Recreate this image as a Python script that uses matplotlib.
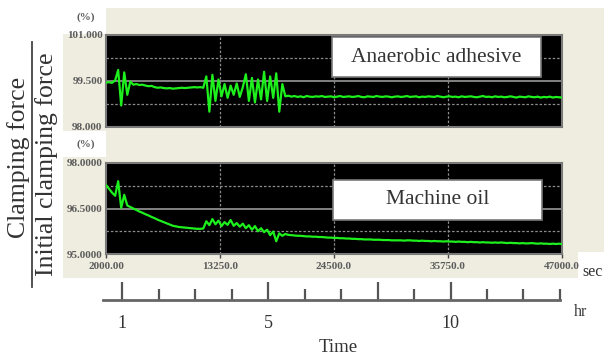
import numpy as np
import matplotlib
matplotlib.use("Agg")
import matplotlib.pyplot as plt
from matplotlib.patches import Rectangle
from matplotlib.lines import Line2D
from matplotlib.ticker import FixedLocator

# ---- logged clamping force, % of initial value, one sample every 300 s ----
t_start = 2000
t_end = 47000
sample_step = 300

adhesive_pct = [
    99.45, 99.46, 99.44, 99.52, 99.86, 98.70, 99.78, 99.05, 99.48, 99.38,
    99.40, 99.37, 99.38, 99.35, 99.33, 99.34, 99.30, 99.28, 99.29, 99.27,
    99.26, 99.27, 99.25, 99.26, 99.27, 99.28, 99.27, 99.28, 99.29, 99.30,
    99.29, 99.30, 99.28, 99.65, 98.50, 99.70, 98.85, 99.55, 99.00, 99.40,
    98.95, 99.35, 99.05, 99.42, 98.98, 99.30, 99.72, 98.85, 99.60, 98.80,
    99.55, 98.90, 99.80, 98.85, 99.65, 98.95, 99.75, 98.50, 99.40, 99.00,
    99.02, 98.99, 99.01, 98.98, 99.00, 98.97, 99.01, 98.99, 98.98, 99.00,
    98.99, 99.01, 98.98, 98.99, 99.00, 98.97, 98.99, 99.01, 98.98, 98.99,
    99.00, 98.98, 98.99, 99.01, 98.98, 98.97, 99.00, 98.99, 98.98, 99.01,
    98.99, 98.98, 99.00, 98.99, 98.97, 98.99, 99.00, 98.98, 98.99, 99.01,
    98.98, 98.99, 99.00, 98.97, 98.99, 98.98, 99.00, 98.99, 98.98, 99.01,
    98.99, 98.97, 98.99, 99.00, 98.98, 98.99, 98.97, 99.00, 98.98, 98.99,
    99.00, 98.98, 98.97, 98.99, 99.01, 98.98, 98.99, 98.97, 99.00, 98.98,
    98.99, 98.97, 98.98, 99.00, 98.98, 98.96, 98.99, 98.98, 98.97, 99.00,
    98.98, 98.97, 98.99, 98.96, 98.98, 98.97, 98.99, 98.96, 98.98, 98.97,
    98.96,
]

oil_pct = [
    97.27, 97.15, 97.02, 96.92, 97.40, 96.52, 96.95, 96.60, 96.55, 96.50,
    96.45, 96.40, 96.36, 96.31, 96.27, 96.22, 96.18, 96.13, 96.09, 96.05,
    96.01, 95.97, 95.93, 95.91, 95.89, 95.88, 95.87, 95.86, 95.85, 95.84,
    95.83, 95.83, 95.84, 96.08, 95.95, 96.15, 95.98, 96.10, 95.92, 96.05,
    95.96, 96.12, 95.93, 96.02, 95.90, 96.00, 95.85, 95.95, 95.80, 95.92,
    95.75, 95.85, 95.72, 95.80, 95.62, 95.74, 95.42, 95.68, 95.60, 95.66,
    95.63, 95.62, 95.61, 95.60, 95.60, 95.59, 95.58, 95.58, 95.57, 95.57,
    95.56, 95.56, 95.55, 95.54, 95.54, 95.53, 95.53, 95.52, 95.52, 95.51,
    95.51, 95.50, 95.50, 95.49, 95.49, 95.48, 95.48, 95.48, 95.47, 95.47,
    95.47, 95.46, 95.46, 95.46, 95.45, 95.45, 95.45, 95.45, 95.44, 95.45,
    95.45, 95.44, 95.44, 95.43, 95.44, 95.43, 95.43, 95.42, 95.43, 95.42,
    95.42, 95.41, 95.42, 95.41, 95.41, 95.40, 95.41, 95.40, 95.40, 95.39,
    95.40, 95.39, 95.39, 95.38, 95.39, 95.38, 95.38, 95.37, 95.38, 95.37,
    95.38, 95.37, 95.36, 95.37, 95.36, 95.36, 95.35, 95.36, 95.35, 95.35,
    95.36, 95.35, 95.34, 95.35, 95.34, 95.34, 95.33, 95.34, 95.33, 95.34,
    95.33,
]

sec_ticks = [2000, 13250, 24500, 35750, 47000]
sec_labels = ["2000.00", "13250.0", "24500.0", "35750.0", "47000.0"]

adhesive_yticks = [98.0, 99.5, 101.0]
adhesive_ylabels = ["98.000", "99.500", "101.000"]
oil_yticks = [95.0, 96.5, 98.0]
oil_ylabels = ["95.0000", "96.5000", "98.0000"]

hr_major = [1, 5, 8, 10]
hr_major_labels = ["1", "5", "", "10"]
hr_minor = [2, 3, 4, 6, 7, 9, 11, 12, 13]

panel_names = ["Anaerobic adhesive", "Machine oil"]

# ---- figure in pixel units ----
W, H = 611, 360
fig = plt.figure(figsize=(W / 100, H / 100), dpi=100)
fig.patch.set_facecolor("white")


def box(x0, y0, x1, y1):
    """figure-fraction rectangle [left, bottom, width, height] from pixel corners"""
    return [x0 / W, 1 - y1 / H, (x1 - x0) / W, (y1 - y0) / H]


def fig_rect(x0, y0, x1, y1, **kw):
    l, b, w, h = box(x0, y0, x1, y1)
    r = Rectangle((l, b), w, h, transform=fig.transFigure, **kw)
    fig.add_artist(r)
    return r


BEIGE = "#efede0"
serif = "Liberation Serif"
tick_font = dict(family=serif, weight="bold", size=8, color="#5c5c5c")

# recorder panel background with white cut-outs
fig_rect(63, 8, 604, 278, fc=BEIGE, ec="none", zorder=-10)
fig_rect(63, 8, 106, 34, fc="white", ec="none", zorder=-9)
fig_rect(63, 131, 106, 157, fc="white", ec="none", zorder=-9)
fig_rect(578, 252, 611, 280, fc="white", ec="none", zorder=-9)

t_sec = t_start + sample_step * np.arange(len(adhesive_pct))

panels = [
    (box(106, 35, 562, 127), adhesive_pct, (98.0, 101.0), adhesive_yticks, adhesive_ylabels),
    (box(106, 163, 562, 254), oil_pct, (95.0, 98.0), oil_yticks, oil_ylabels),
]

axes = []
for k, (pos, values, ylim, yt, yl) in enumerate(panels):
    ax = fig.add_axes(pos)
    ax.set_facecolor("black")
    ax.set_xlim(t_start, t_end)
    ax.set_ylim(*ylim)

    lo, hi = ylim
    span = hi - lo
    for q in (0.25, 0.75):
        ax.axhline(lo + q * span, color="#8c8c8c", lw=0.9, ls=(0, (2, 1.5)), zorder=1)
    ax.axhline(lo + 0.5 * span, color="#8c8c8c", lw=1.3, zorder=1)
    for s in sec_ticks[1:-1]:
        ax.axvline(s, color="#8c8c8c", lw=0.9, ls=(0, (2, 1.5)), zorder=1)

    ax.plot(t_sec, values, color="#1df01d", lw=1.6, zorder=3)

    ax.set_yticks(yt)
    ax.set_yticklabels(yl, fontdict=tick_font)
    ax.tick_params(axis="y", length=0, pad=2.5)

    ax.set_xticks(sec_ticks)
    if k == 1:
        ax.set_xticklabels(sec_labels, fontdict=tick_font)
        ax.tick_params(axis="x", length=3, width=1, color="#444444", pad=3)
    else:
        ax.tick_params(axis="x", length=0, labelbottom=False)

    for sp in ax.spines.values():
        sp.set_color("#7a7a7a")
        sp.set_linewidth(1.5)
    axes.append(ax)

# "(%)" unit marks above each value scale
for y in (17, 144):
    fig.text(86 / W, 1 - y / H, "(%)", ha="center", va="center", **tick_font)

# series name boxes
for (x0, y0, x1, y1), name in zip([(332, 37, 541, 77), (333, 180, 542, 220)], panel_names):
    fig_rect(x0, y0, x1, y1, fc="white", ec="#7a7a7a", lw=1.2, zorder=5)
    fig.text((x0 + x1) / 2 / W, 1 - (y0 + y1) / 2 / H, name, ha="center", va="center",
             family=serif, size=15.5, color="#333333", zorder=6)

fig.text(593 / W, 1 - 272 / H, "sec", ha="center", va="center",
         family=serif, size=11.5, color="#333333")

# hour scale under the recorder panel
ax_hr = fig.add_axes(box(106, 280, 562, 300))
ax_hr.set_xlim(t_start / 3600, t_end / 3600)
ax_hr.set_ylim(0, 1)
ax_hr.patch.set_visible(False)
for side in ("top", "right", "left"):
    ax_hr.spines[side].set_visible(False)
ax_hr.spines["bottom"].set_bounds(0.47, 13.0)
ax_hr.spines["bottom"].set_color("#666666")
ax_hr.spines["bottom"].set_linewidth(2)
ax_hr.set_yticks([])
ax_hr.xaxis.set_major_locator(FixedLocator(hr_major))
ax_hr.xaxis.set_minor_locator(FixedLocator(hr_minor))
ax_hr.set_xticklabels(hr_major_labels, family=serif, size=13, color="#333333")
ax_hr.tick_params(axis="x", which="major", direction="in", length=13, width=1.6,
                  color="#555555", pad=11)
ax_hr.tick_params(axis="x", which="minor", direction="in", length=8, width=1.6,
                  color="#555555")
ax_hr.text(13.55, -0.6, "hr", ha="center", va="center", family=serif, size=11.5,
           color="#333333")

fig.text(338 / W, 1 - 348 / H, "Time", ha="center", va="center",
         family=serif, size=13.5, color="#333333")

# ratio label on the left: clamping force / initial clamping force
fig.text(19 / W, 1 - 157 / H, "Clamping force", rotation=90, ha="center", va="center",
         family=serif, size=18.5, color="#333333")
fig.text(47 / W, 1 - 164 / H, "Initial clamping force", rotation=90, ha="center",
         va="center", family=serif, size=18.5, color="#333333")
fig.add_artist(Line2D([32 / W, 32 / W], [1 - 42 / H, 1 - 287 / H],
                      transform=fig.transFigure, color="#444444", lw=1.3))

fig.savefig("out.png", dpi=100)
